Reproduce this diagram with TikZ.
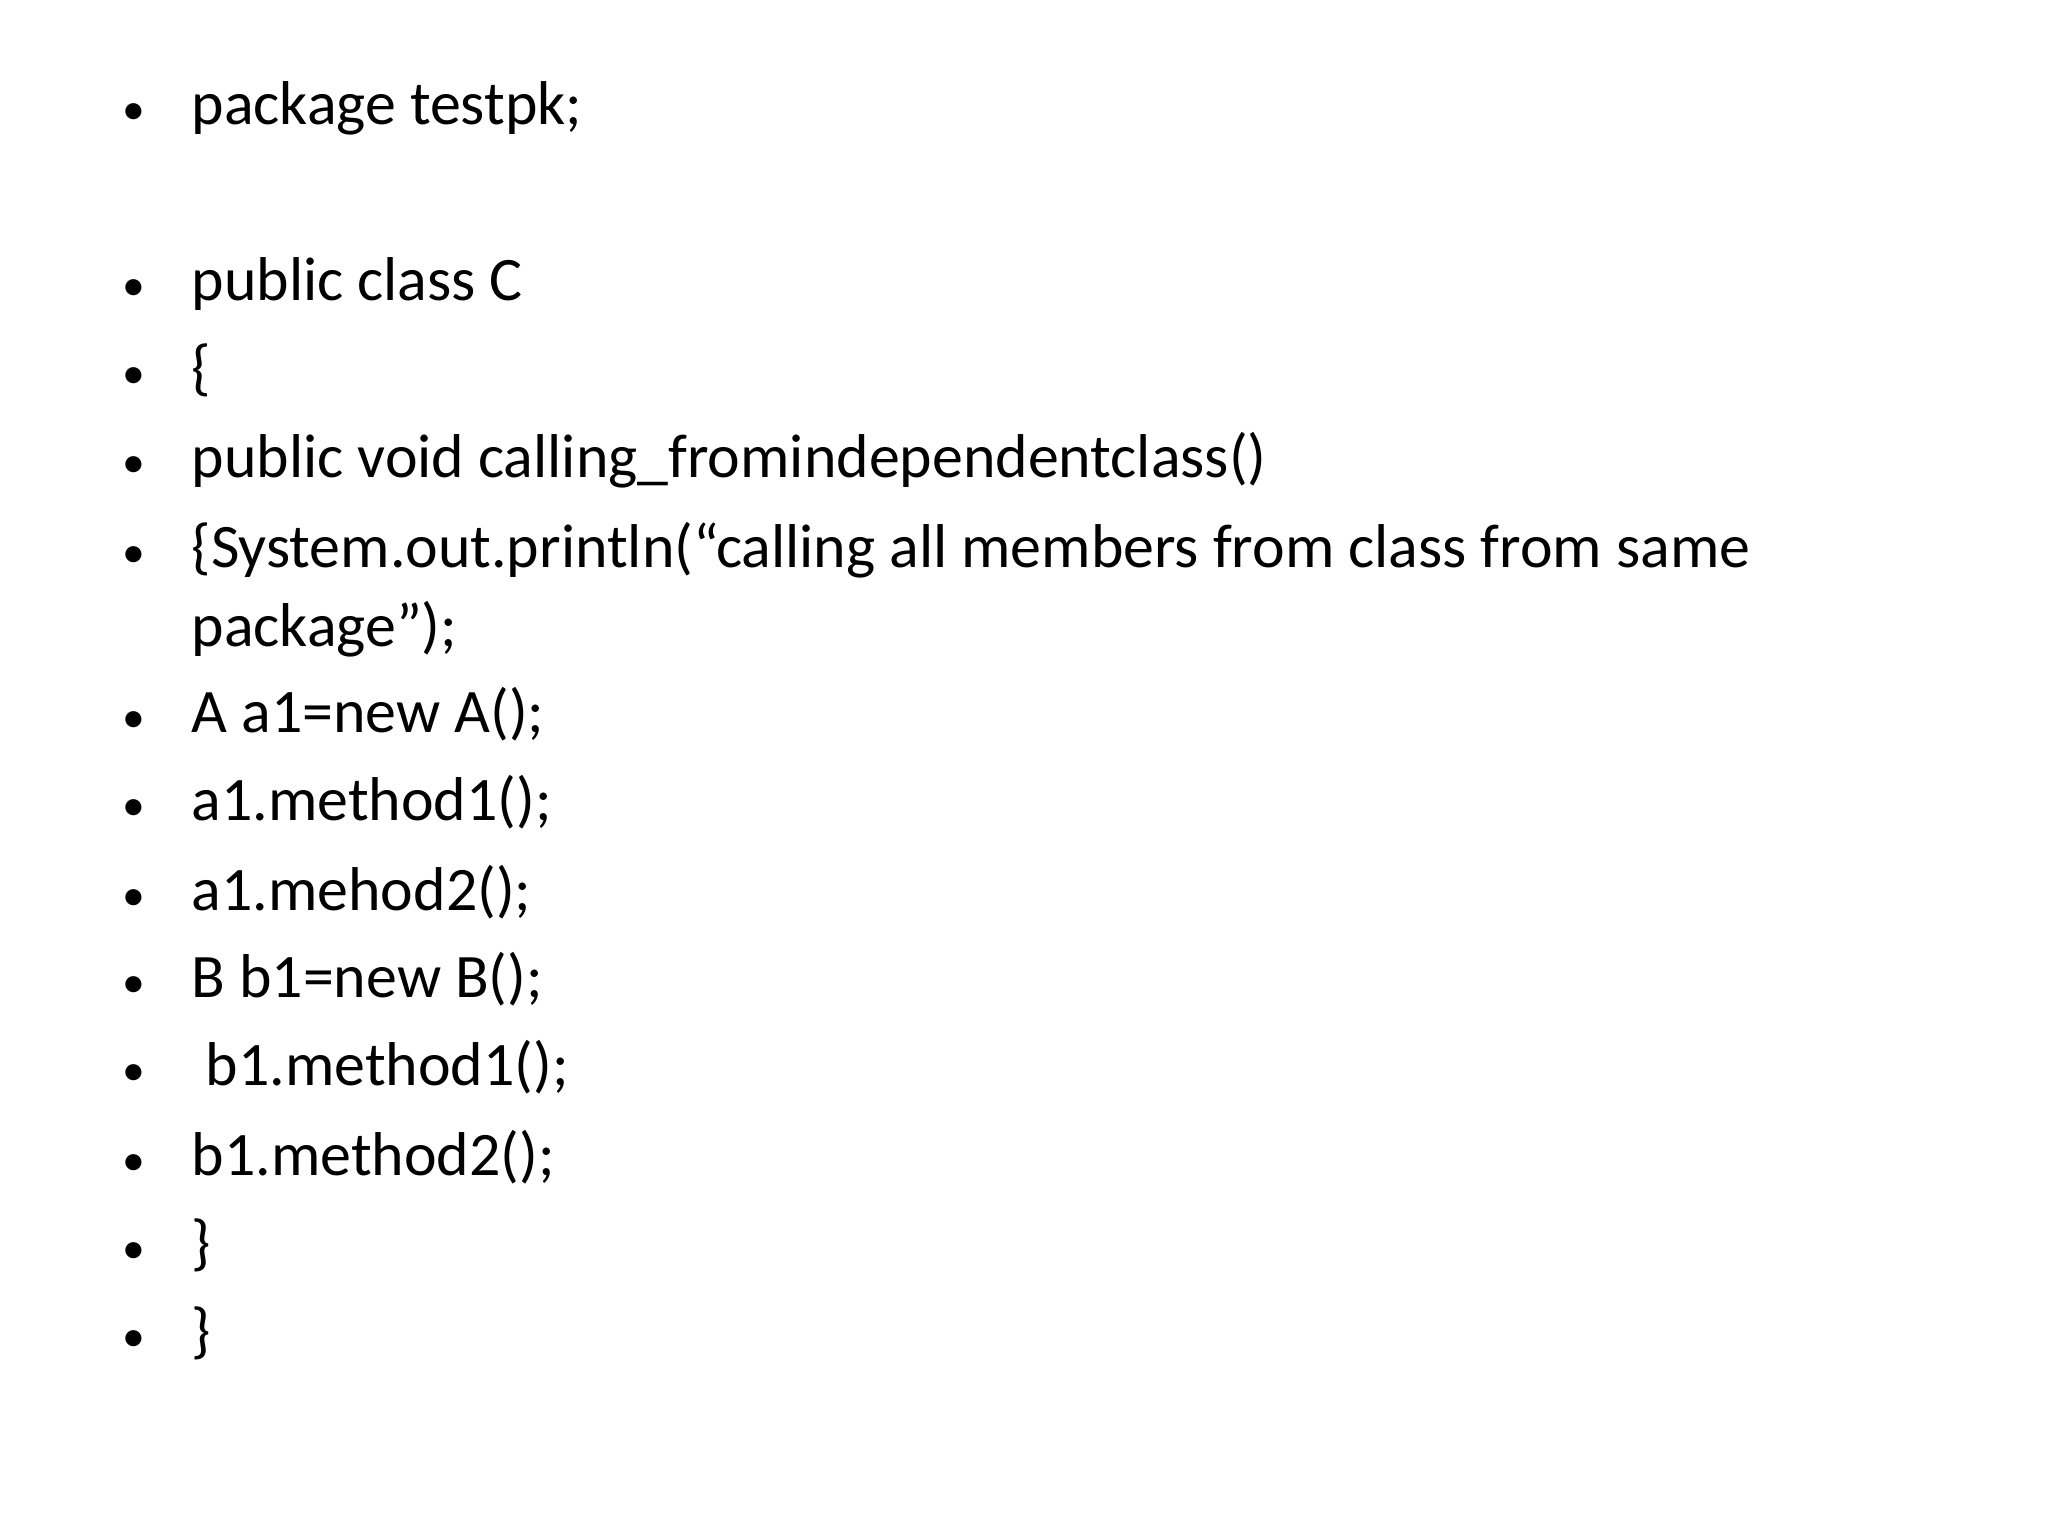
\documentclass[tikz,border=0pt]{standalone}
\usepackage{fontspec}
\setmainfont{Carlito}
\begin{document}
\begin{tikzpicture}
  \tikzset{codeline/.style={anchor=base west, inner sep=0pt,
                            font=\fontsize{17.6}{22.5}\selectfont},
           bulletmark/.style={anchor=base, inner sep=0pt,
                            font=\fontsize{13}{22.5}\selectfont}}
\useasboundingbox (0,0) rectangle (20.48,-15.36);
\foreach \y/\txt [count=\i] in {1.25/{package testpk;}, 3.01/{public class C}, 3.89/{\{},
    4.78/{public void calling\_fromindependentclass()},
    5.68/{\{System.out.println(“calling all members from class from same},
    7.33/{A a1=new A();}, 8.21/{a1.method1();}, 9.11/{a1.mehod2();},
    9.97/{B b1=new B();}, 10.85/{\ b1.method1();}, 11.75/{b1.method2();},
    12.63/{\}}, 13.51/{\}}}{
  \node[bulletmark] (dot\i) at (1.34,-\y) {•};
  \node[codeline] (line\i) at (1.91,-\y) {\txt};
}
% wrapped part of the println line
\node[codeline] (line5b) at (1.91,-6.47) {package”);};
\end{tikzpicture}
\end{document}
